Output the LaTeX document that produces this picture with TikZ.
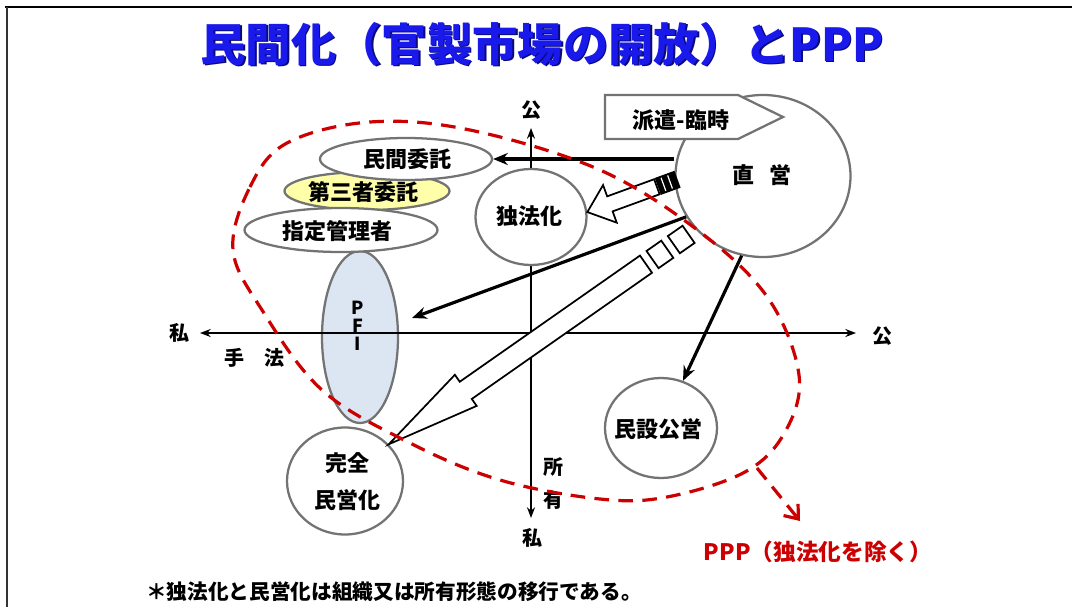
\documentclass[tikz,border=0pt]{standalone}
\usepackage{fontspec}
\setmainfont{Noto Sans CJK JP}
\usetikzlibrary{shapes.geometric,arrows.meta,calc}
\definecolor{ttlblue}{RGB}{25,25,235}
\definecolor{ttlshadow}{RGB}{10,10,120}
\definecolor{pppred}{RGB}{204,0,0}
\definecolor{ylw}{RGB}{255,255,170}
\definecolor{pfiblue}{RGB}{220,230,243}
\definecolor{rim}{RGB}{115,115,115}
\tikzset{
  circ/.style={ellipse, draw=rim, line width=1.7pt, fill=white, inner sep=0pt},
  txt/.style={font=\fontsize{16.5}{18}\selectfont\bfseries, inner sep=0pt},
  lab/.style={font=\fontsize{15}{16}\selectfont\bfseries, inner sep=0pt},
  pfilab/.style={font=\fontsize{13.5}{14}\selectfont\bfseries, inner sep=0pt},
  axisline/.style={line width=1.5pt, {Stealth[length=8pt,width=6pt]}-{Stealth[length=8pt,width=6pt]}},
  arr/.style={line width=2.4pt, -{Stealth[length=11pt,width=9pt]}},
  blk/.style={draw=black, line width=1.3pt, fill=white, line join=miter},
  reddash/.style={draw=pppred, line width=2.4pt, dash pattern=on 11pt off 7pt},
}
\begin{document}
\begin{tikzpicture}[x=0.75pt,y=-0.75pt]
\useasboundingbox (0,0) rectangle (1072,607);
\fill[white] (0,0) rectangle (1072,607);
% frame
\draw[line width=2.2pt] (5,7) -- (1072,7);
\draw[line width=1.6pt, black!80] (7,7) -- (7,607);

% title
\node[font=\fontsize{34}{36}\selectfont\bfseries, text=ttlshadow] at (543.5,45.5) {民間化（官製市場の開放）とPPP};
\node[font=\fontsize{34}{36}\selectfont\bfseries, text=ttlblue] (title) at (542,44) {民間化（官製市場の開放）とPPP};

% PFI ellipse (behind axes)
\node[circ, fill=pfiblue, minimum width=57pt, minimum height=129pt] (pfi) at (360,337) {};

% axes
\coordinate (axT) at (531,128);
\coordinate (axB) at (531,518);
\coordinate (axL) at (200,333);
\coordinate (axR) at (856,333);
\draw[axisline] (axL) -- (axR);
\draw[axisline] (axT) -- (axB);

\node[pfilab] (pfiP) at (358,308) {P};
\node[pfilab] (pfiF) at (358,326) {F};
\node[pfilab] (pfiI) at (358,344) {I};

% axis labels
\node[lab] (koutop) at (531,110) {公};
\node[lab] (kouright) at (882,336) {公};
\node[lab] (shileft) at (179,333) {私};
\node[lab] (shibot) at (532,538) {私};
\node[lab] (shu) at (234,358) {手};
\node[lab] (hou) at (274,358) {法};
\node[lab] (sho) at (553,467) {所};
\node[lab] (yuu) at (553,500) {有};

% ellipses on the left
\node[circ, fill=ylw, minimum width=123.75pt, minimum height=28.5pt] (daisan) at (367,191) {};
\node[circ, minimum width=129pt, minimum height=31.5pt] (minkan) at (406,159) {};
\node[circ, minimum width=144.75pt, minimum height=33pt] (shitei) at (341,230) {};
\node[txt] at (363,192) {第三者委託};
\node[txt] at (407,159) {民間委託};
\node[txt] at (337,231) {指定管理者};

% circles
\node[circ, minimum width=131.25pt, minimum height=121.5pt] (chokuei) at (763,176) {};
\node[txt] at (762,175) {直\hspace{0.65em}営};
\node[circ, minimum width=83.25pt, minimum height=72pt] (dokuhou) at (531,217) {};
\node[txt] at (529,216) {独法化};
\node[circ, minimum width=87pt, minimum height=80.25pt] (kanzen) at (345,481) {};
\node[txt, align=center, font=\fontsize{16.5}{27.75}\selectfont\bfseries] at (347,482) {完全\\民営化};
\node[circ, minimum width=84pt, minimum height=75pt] (minsetsu) at (661,428) {};
\node[txt] at (658,429) {民設公営};

% haken pentagon arrow
\draw[draw=rim, line width=1.7pt, fill=white, line join=miter] (605,95) -- (738,95) -- (783,117) -- (738,139) -- (605,139) -- cycle;
\node[txt] (haken) at (681,120) {派遣-臨時};

% line arrows
\coordinate (pfitip) at (412,318);
\draw[arr] (chokuei.west |- minkan.east) -- (minkan.east);
\draw[arr] (chokuei.208) -- (pfitip);
\draw[arr] (chokuei.255) -- (minsetsu.65);

% block arrow to dokuhou
\begin{scope}[shift={(dokuhou.5)}, rotate=20]
  \draw[blk] (0,0) -- (24,-20) -- (24,-8) -- (74,-8) -- (74,8) -- (24,8) -- (24,20) -- cycle;
  \fill[black] (75,-9) rectangle (96,9);
  \draw[white, line width=0.9pt] (81,-7) -- (81,7);
  \draw[white, line width=0.9pt] (88,-7) -- (88,7);
\end{scope}

% big block arrow to kanzen
\begin{scope}[shift={(kanzen.40)}, rotate=35]
  \draw[blk] (0,0) -- (94,-19) -- (94,-10.5) -- (314,-10.5) -- (314,10.5) -- (94,10.5) -- (94,19) -- cycle;
  \draw[blk] (322,-10.5) rectangle (340,10.5);
  \draw[blk] (348,-10.5) rectangle (366,10.5);
\end{scope}

% red dashed loop
\draw[reddash] plot[smooth cycle, tension=0.6] coordinates {
  (233,250) (250,187) (287,143) (370,122) (470,130) (600,170) (700,232)
  (768,298) (799,375) (785,432) (745,472) (667,497) (600,499) (500,480)
  (410,443) (322,390) (262,310)};
\coordinate (redfork) at (757,468);
\coordinate (redend) at (800,521);
\draw[reddash, -{Straight Barb[length=9pt,width=14pt]}] (redfork) -- (redend);

\node[font=\fontsize{17}{19}\selectfont\bfseries, text=pppred, inner sep=0pt] (ppp) at (818,552) {PPP（独法化を除く）};

\node[font=\fontsize{15.5}{17}\selectfont\bfseries, inner sep=0pt] (note) at (394,592) {＊独法化と民営化は組織又は所有形態の移行である。};
\end{tikzpicture}
\end{document}
